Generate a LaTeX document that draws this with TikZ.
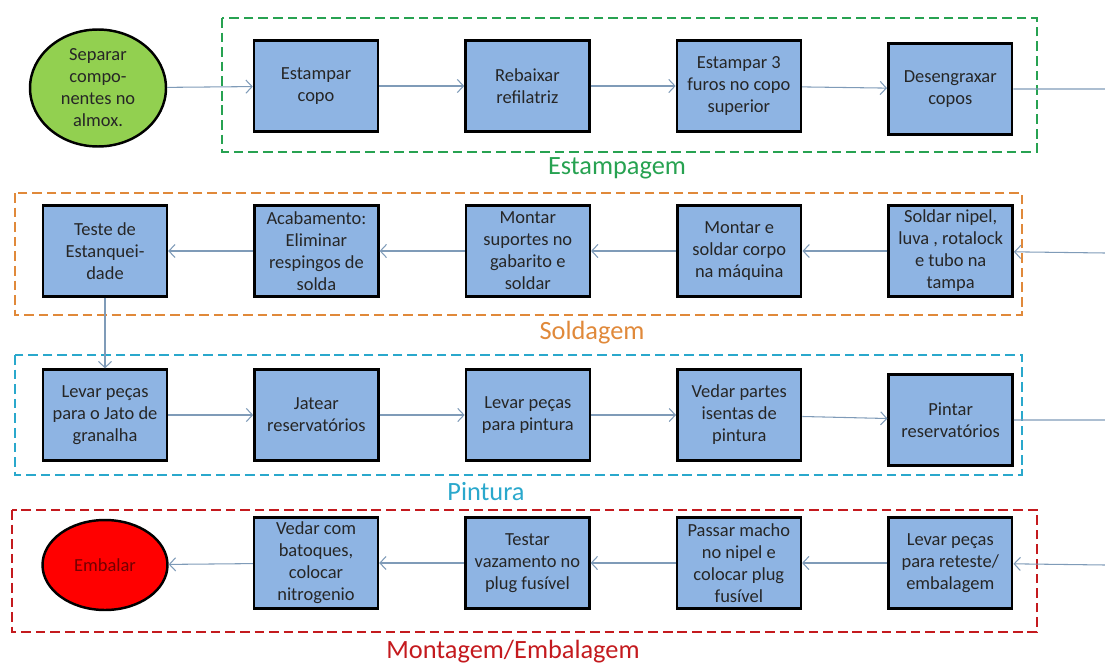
\documentclass[tikz,border=0pt]{standalone}
\usepackage{fontspec}
\setmainfont{Carlito}
\usepackage{xcolor}
\usetikzlibrary{arrows.meta,positioning,shapes.geometric}

\definecolor{boxblue}{HTML}{8EB4E3}
\definecolor{linecol}{HTML}{7F9BB8}
\definecolor{estcol}{HTML}{27A251}
\definecolor{solcol}{HTML}{E0893A}
\definecolor{pincol}{HTML}{2AA8CC}
\definecolor{mntcol}{HTML}{C41A1E}
\definecolor{startgreen}{HTML}{92D050}

\begin{document}
\begin{tikzpicture}[
  x=0.02cm, y=-0.02cm, >={Straight Barb[length=3.5pt,width=7.5pt]},
  stepbox/.style={draw=black, line width=1.4pt, fill=boxblue, minimum width=2.48cm, minimum height=1.82cm, inner sep=1pt, font=\fontsize{10.5}{12.5}\selectfont, align=center, text=black!85},
  term/.style={ellipse, draw=black, line width=1.4pt, inner sep=0pt, font=\fontsize{10.5}{12.5}\selectfont, align=center},
  arrow/.style={->, line width=0.6pt, linecol},
  link/.style={line width=0.6pt, linecol},
  grp/.style={dash pattern=on 5.5pt off 2.8pt, line width=1.6pt},
  lbl/.style={font=\fontsize{15}{18}\selectfont},
  node distance=1.7cm
]
\useasboundingbox (0,0) rectangle (1105,666);

% Estampagem
\node[term, fill=startgreen, minimum width=2.72cm, minimum height=2.34cm, text=black!85] (sep) at (98,88) {Separar\\compo-\\nentes no\\almox.};
\node[stepbox] (estcopo) at (316,86) {Estampar\\copo};
\node[stepbox, right=of estcopo] (rebaixar) {Rebaixar\\refilatriz};
\node[stepbox, right=of rebaixar] (furos) {Estampar 3\\furos no copo\\superior};
\node[stepbox, right=of furos, yshift=-0.06cm] (deseng) {Desengraxar\\copos};
\coordinate (r1) at (1105,89);

% Soldagem
\node[stepbox] (teste) at (105,251) {Teste de\\Estanquei-\\dade};
\node[stepbox, right=of teste] (acab) {Acabamento:\\Eliminar\\respingos de\\solda};
\node[stepbox, right=of acab] (montsup) {Montar\\suportes no\\gabarito e\\soldar};
\node[stepbox, right=of montsup] (montsold) {Montar e\\soldar corpo\\na máquina};
\node[stepbox, right=of montsold] (soldnip) {Soldar nipel,\\luva , rotalock\\e tubo na\\tampa};
\coordinate (r2) at (1105,253);

% Pintura
\node[stepbox] (jato) at (105,415) {Levar peças\\para o Jato de\\granalha};
\node[stepbox, right=of jato] (jatear) {Jatear\\reservatórios};
\node[stepbox, right=of jatear] (levpint) {Levar peças\\para pintura};
\node[stepbox, right=of levpint] (vedar) {Vedar partes\\isentas de\\pintura};
\node[stepbox, right=of vedar, yshift=-0.1cm] (pintar) {Pintar\\reservatórios};
\coordinate (r3) at (1105,420);

% Montagem/Embalagem
\node[term, fill=red, minimum width=2.5cm, minimum height=1.8cm, text=red!45!black] (embalar) at (105,565) {Embalar};
\node[stepbox] (vedcom) at (316,563) {Vedar com\\batoques,\\colocar\\nitrogenio};
\node[stepbox, right=of vedcom] (testar) {Testar\\vazamento no\\plug fusível};
\node[stepbox, right=of testar] (passar) {Passar macho\\no nipel e\\colocar plug\\fusível};
\node[stepbox, right=of passar] (levret) {Levar peças\\para reteste/\\embalagem};
\coordinate (r4) at (1105,565);

% grupos
\draw[grp, estcol] (222,18) rectangle (1037,152);
\draw[grp, solcol] (15,193) rectangle (1022,315);
\draw[grp, pincol] (15,355) rectangle (1022,475);
\draw[grp, mntcol] (12,510) rectangle (1037,632);
\node[lbl, text=estcol] (lblest) at (617,168) {Estampagem};
\node[lbl, text=solcol] (lblsol) at (592,333) {Soldagem};
\node[lbl, text=pincol] (lblpin) at (486,492) {Pintura};
\node[lbl, text=mntcol] (lblmnt) at (513,652) {Montagem/Embalagem};

\draw[arrow] (sep) -- (estcopo);
\draw[arrow] (estcopo) -- (rebaixar);
\draw[arrow] (rebaixar) -- (furos);
\draw[arrow] (furos) -- (deseng);
\draw[link] (deseng) -- (r1);

\draw[arrow] (r2) -- (soldnip);
\draw[arrow] (soldnip) -- (montsold);
\draw[arrow] (montsold) -- (montsup);
\draw[arrow] (montsup) -- (acab);
\draw[arrow] (acab) -- (teste);
\draw[arrow] (teste) -- (jato);

\draw[arrow] (jato) -- (jatear);
\draw[arrow] (jatear) -- (levpint);
\draw[arrow] (levpint) -- (vedar);
\draw[arrow] (vedar) -- (pintar);
\draw[link] (pintar) -- (r3);

\draw[arrow] (r4) -- (levret);
\draw[arrow] (levret) -- (passar);
\draw[arrow] (passar) -- (testar);
\draw[arrow] (testar) -- (vedcom);
\draw[arrow] (vedcom) -- (embalar);

\end{tikzpicture}
\end{document}
